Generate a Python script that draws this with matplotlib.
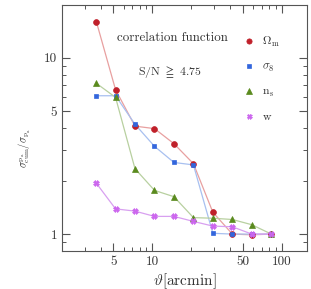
import matplotlib
matplotlib.use("Agg")
import matplotlib.pyplot as plt
from matplotlib.ticker import FixedLocator, NullFormatter, FixedFormatter

plt.rcParams["font.family"] = "cmr10"
plt.rcParams["mathtext.fontset"] = "cm"
plt.rcParams["axes.formatter.use_mathtext"] = True

theta = [3.7, 5.2, 7.35, 10.4, 14.7, 20.8, 29.4, 41.6, 58.8, 83.2]
omega_m = [16.0, 6.6, 4.1, 3.97, 3.26, 2.51, 1.33, 1.0, 0.99, 1.0]
sigma_8 = [6.1, 6.1, 4.2, 3.15, 2.55, 2.47, 1.01, 1.0, 1.0, 1.0]
n_s = [7.17, 5.97, 2.35, 1.77, 1.63, 1.24, 1.23, 1.21, 1.13, 1.0]
w = [1.94, 1.39, 1.35, 1.26, 1.26, 1.18, 1.11, 1.10, 1.0, 1.0]

series = [
    (omega_m, r"$\Omega_{\rm m}$", "o", "#c0202a", "#e8a0a0", 4.2),
    (sigma_8, r"$\sigma_8$", "s", "#3366dd", "#a8c0f0", 2.8),
    (n_s, r"$\mathrm{n_s}$", "^", "#5a8a1e", "#b8d0a0", 4.2),
    (w, r"$\mathrm{w}$", "X", "#cc66ee", "#d8a0f0", 4.0),
]

fig = plt.figure(figsize=(3.11, 2.89), dpi=100)
ax = fig.add_axes([0.199, 0.131, 0.788, 0.852])

for vals, lab, mk, col, lcol, ms in series:
    ax.plot(theta, vals, color=lcol, lw=0.9, zorder=1)
    ax.plot(theta, vals, ls="none", marker=mk, ms=ms, color=col,
            mec=col, mew=0.5, label=lab, zorder=2)

ax.set_xscale("log")
ax.set_yscale("log")
ax.set_xlim(2.0, 157)
ax.set_ylim(0.8, 20)

ax.xaxis.set_major_locator(FixedLocator([5, 10, 50, 100]))
ax.xaxis.set_major_formatter(FixedFormatter(["5", "10", "50", "100"]))
ax.xaxis.set_minor_locator(FixedLocator([2, 3, 4, 6, 7, 8, 9, 20, 30, 40, 60, 70, 80, 90]))
ax.xaxis.set_minor_formatter(NullFormatter())
ax.yaxis.set_major_locator(FixedLocator([1, 5, 10]))
ax.yaxis.set_major_formatter(FixedFormatter(["1", "5", "10"]))
ax.yaxis.set_minor_locator(FixedLocator([0.9, 2, 3, 4, 6, 7, 8, 9]))
ax.yaxis.set_minor_formatter(NullFormatter())

ax.tick_params(which="both", direction="in", top=True, right=True,
               color="#555555", labelcolor="#333333", labelsize=9.5)
ax.tick_params(which="major", length=6, width=0.8)
ax.tick_params(which="minor", length=3, width=0.7)
for sp in ax.spines.values():
    sp.set_color("#555555")
    sp.set_linewidth(0.8)

ax.set_xlabel(r"$\vartheta$[arcmin]", fontsize=11, color="#333333", labelpad=2)
ax.set_ylabel(r"$\sigma^{\rm p_a}_{\rm cum}/\sigma_{\rm p_a}$", fontsize=7.5,
              color="#333333")
ax.yaxis.set_label_coords(-0.12, 0.42)

ax.text(0.45, 0.865, "correlation function", transform=ax.transAxes,
        ha="center", va="center", fontsize=9.3, color="#333333")
ax.text(0.44, 0.728, r"S/N $\geqq$ 4.75", transform=ax.transAxes,
        ha="center", va="center", fontsize=8.5, color="#333333")

ax.legend(loc="upper left", bbox_to_anchor=(0.739, 0.876), frameon=False,
          fontsize=8.5, labelspacing=1.06, handlelength=1.0,
          handletextpad=0.6, borderaxespad=0, borderpad=0,
          labelcolor="#333333", markerscale=0.9)

fig.savefig("out.png", dpi=100)
